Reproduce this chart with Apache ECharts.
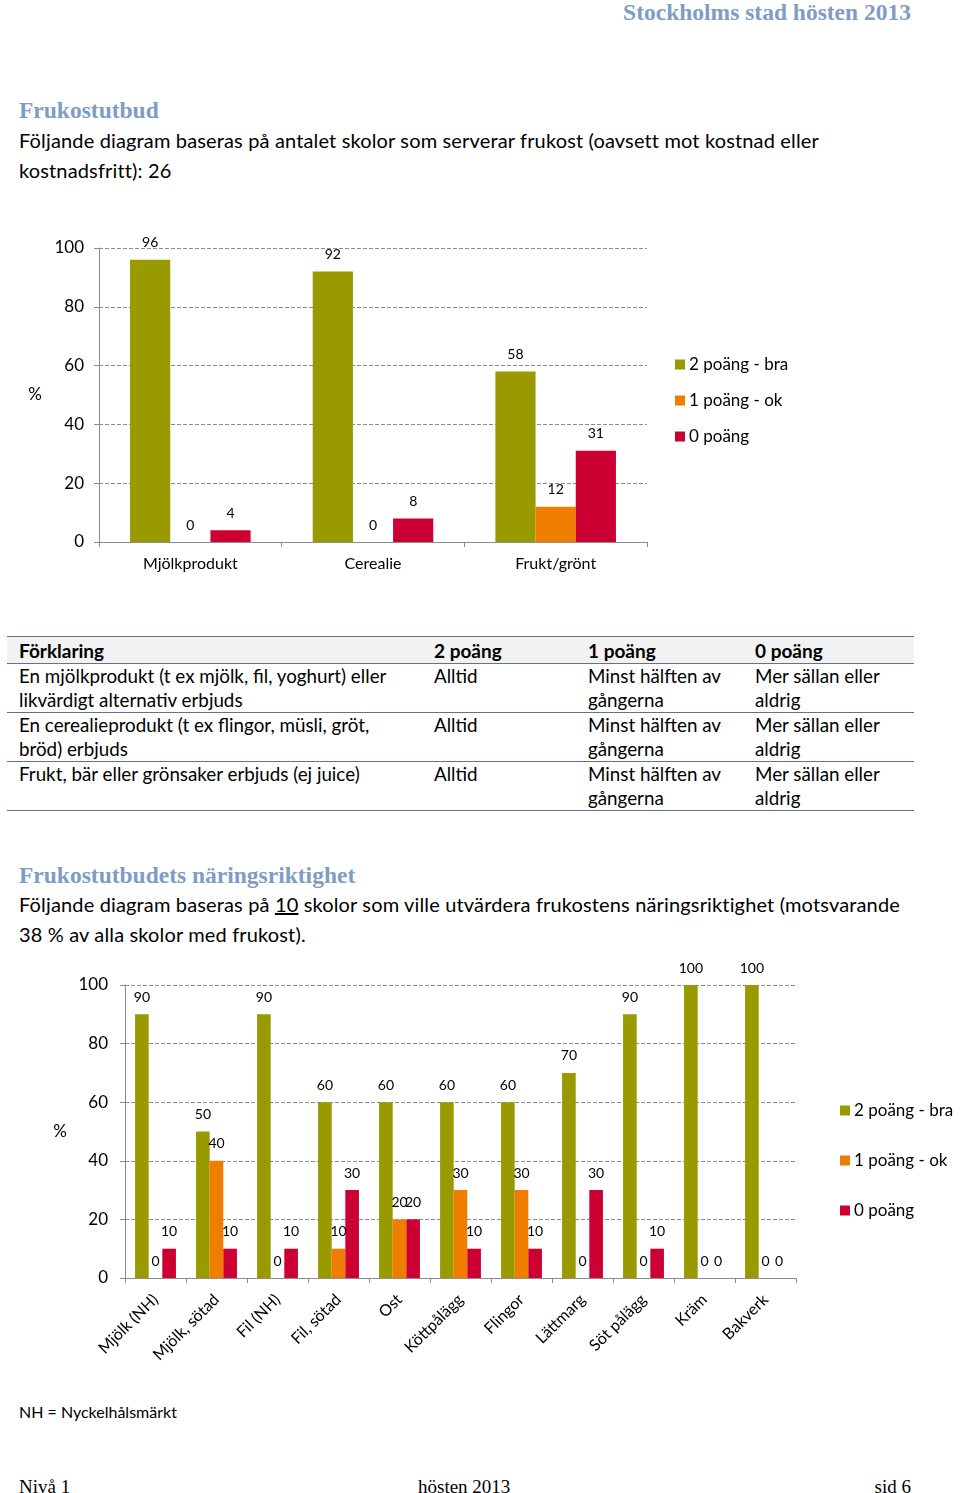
<!DOCTYPE html>
<html>
<head>
<meta charset="utf-8">
<script src="https://cdn.jsdelivr.net/npm/echarts@6/dist/echarts.min.js"></script>
<style>
  html, body { margin: 0; padding: 0; background: #fff; }
  body { width: 960px; height: 1493px; position: relative; overflow: hidden; font-family: Lato, "Open Sans", sans-serif; color: #000; }
  .abs { position: absolute; white-space: nowrap; line-height: 1; }
  .serifh { font-family: "Liberation Serif", serif; font-weight: bold; color: #7E9CC4; font-size: 23.5px; }
  .body { font-size: 20px; letter-spacing: 0.15px; }
  .tbody { font-size: 18.8px; }
  .tline { position: absolute; left: 7px; width: 907px; height: 0; border-top: 1.5px solid #60728C; }
  .hdrbg { position: absolute; left: 7px; width: 907px; top: 637px; height: 27px; background: #F2F2F2; }
  .th { font-weight: bold; font-size: 19px; }
  .foot { font-family: "Liberation Serif", serif; font-size: 19px; }
  #c1 { position: absolute; left: 0; top: 220px; width: 960px; height: 370px; }
  #c2 { position: absolute; left: 0; top: 950px; width: 960px; height: 430px; }
</style>
</head>
<body>
<div class="abs serifh" style="right:49px; top:1px;">Stockholms stad hösten 2013</div>
<div class="abs serifh" style="left:19px; top:99px;">Frukostutbud</div>
<div class="abs body" style="left:19px; top:130px;">Följande diagram baseras på antalet skolor som serverar frukost (oavsett mot kostnad eller</div>
<div class="abs body" style="left:19px; top:160px;">kostnadsfritt): 26</div>

<div id="c1"></div>

<div class="hdrbg"></div>
<div class="tline" style="top:636px;"></div>
<div class="tline" style="top:663px;"></div>
<div class="tline" style="top:712px;"></div>
<div class="tline" style="top:761px;"></div>
<div class="tline" style="top:810px;"></div>
<div id="tbl"></div>

<div class="abs serifh" style="left:19px; top:864px;">Frukostutbudets näringsriktighet</div>
<div class="abs body" style="left:19px; top:894px;">Följande diagram baseras på <span style="text-decoration:underline;">10</span> skolor som ville utvärdera frukostens näringsriktighet (motsvarande</div>
<div class="abs body" style="left:19px; top:924px;">38 % av alla skolor med frukost).</div>

<div id="c2"></div>

<div class="abs" style="left:19px; top:1404px; font-size:16px;">NH = Nyckelhålsmärkt</div>
<div class="abs foot" style="left:19px; top:1477px;">Nivå 1</div>
<div class="abs foot" style="left:418px; top:1477px;">hösten 2013</div>
<div class="abs foot" style="right:49px; top:1477px;">sid 6</div>

<script>
// ---- Data: chart 1 ----
const categories1 = ['Mjölkprodukt', 'Cerealie', 'Frukt/grönt'];
const bra1 = [96, 92, 58];
const ok1 = [0, 0, 12];
const noll1 = [4, 8, 31];

// ---- Data: chart 2 ----
const categories2 = ['Mjölk (NH)', 'Mjölk, sötad', 'Fil (NH)', 'Fil, sötad', 'Ost', 'Köttpålägg', 'Flingor', 'Lättmarg', 'Söt pålägg', 'Kräm', 'Bakverk'];
const bra2 = [90, 50, 90, 60, 60, 60, 60, 70, 90, 100, 100];
const ok2 = [0, 40, 0, 10, 20, 30, 30, 0, 0, 0, 0];
const noll2 = [10, 10, 10, 30, 20, 10, 10, 30, 10, 0, 0];

const seriesNames = ['2 poäng - bra', '1 poäng - ok', '0 poäng'];
const yTicks = [0, 20, 40, 60, 80, 100];

// ---- Table text ----
const tableHeader = ['Förklaring', '2 poäng', '1 poäng', '0 poäng'];
const tableRows = [
  [['En mjölkprodukt (t ex mjölk, fil, yoghurt) eller', 'likvärdigt alternativ erbjuds'], ['Alltid'], ['Minst hälften av', 'gångerna'], ['Mer sällan eller', 'aldrig']],
  [['En cerealieprodukt (t ex flingor, müsli, gröt,', 'bröd) erbjuds'], ['Alltid'], ['Minst hälften av', 'gångerna'], ['Mer sällan eller', 'aldrig']],
  [['Frukt, bär eller grönsaker erbjuds (ej juice)'], ['Alltid'], ['Minst hälften av', 'gångerna'], ['Mer sällan eller', 'aldrig']]
];

// build table
(function () {
  const colX = [19, 434, 588, 755];
  const tbl = document.getElementById('tbl');
  let html = '';
  tableHeader.forEach((t, i) => {
    html += '<div class="abs th" style="left:' + colX[i] + 'px; top:641px;">' + t + '</div>';
  });
  const rowTop = [667, 716, 765];
  tableRows.forEach((row, r) => {
    row.forEach((cell, c) => {
      cell.forEach((line, l) => {
        html += '<div class="abs tbody" style="left:' + colX[c] + 'px; top:' + (rowTop[r] + l * 24) + 'px;">' + line + '</div>';
      });
    });
  });
  tbl.innerHTML = html;
})();

const colors = ['#999900', '#EE7D00', '#CC0033'];
const FONT = 'Lato';

function makeOption(cfg) {
  const mk = (name, data, color) => ({
    name: name,
    type: 'bar',
    data: data,
    barGap: '0%',
    barCategoryGap: cfg.catGap,
    itemStyle: { color: color },
    label: { show: true, position: 'top', distance: cfg.labelDist, fontSize: cfg.labelSize, color: '#000', fontFamily: FONT },
    emphasis: { disabled: true }
  });
  return {
    animation: false,
    textStyle: { fontFamily: FONT },
    grid: cfg.grid,
    legend: {
      orient: 'vertical',
      left: cfg.legendLeft,
      top: cfg.legendTop,
      itemWidth: 10,
      itemHeight: 10,
      itemGap: cfg.legendGap,
      icon: 'rect',
      textStyle: { fontSize: 17, color: '#000', fontFamily: FONT, padding: [0, 0, 0, -1] },
      data: seriesNames,
      selectedMode: false
    },
    xAxis: {
      type: 'category',
      data: cfg.categories,
      axisLine: { lineStyle: { color: '#8C8C8C', width: 1 } },
      axisTick: { show: true, length: 5, lineStyle: { color: '#8C8C8C' } },
      axisLabel: Object.assign({ fontSize: 16, color: '#000', fontFamily: FONT, interval: 0 }, cfg.xLabel)
    },
    yAxis: {
      type: 'value',
      min: 0,
      max: 100,
      interval: 20,
      name: '%',
      nameLocation: 'middle',
      nameRotate: 0,
      nameGap: cfg.nameGap,
      nameTextStyle: { fontSize: 17, color: '#000', fontFamily: FONT },
      axisLine: { show: true, lineStyle: { color: '#8C8C8C' } },
      axisTick: { show: true, length: 5, lineStyle: { color: '#8C8C8C' } },
      axisLabel: {
        fontSize: 17, color: '#000', fontFamily: FONT, margin: cfg.yMargin,
        formatter: v => (yTicks.indexOf(v) >= 0 ? String(v) : '')
      },
      splitLine: { show: true, lineStyle: { color: '#8C8C8C', type: [4, 2], width: 1 } }
    },
    series: [
      mk(seriesNames[0], cfg.bra, colors[0]),
      mk(seriesNames[1], cfg.ok, colors[1]),
      mk(seriesNames[2], cfg.noll, colors[2])
    ]
  };
}

const chart1 = echarts.init(document.getElementById('c1'), null, { renderer: 'canvas' });
chart1.setOption(makeOption({
  categories: categories1, bra: bra1, ok: ok1, noll: noll1,
  grid: { left: 99, right: 313, top: 28, bottom: 48 },
  catGap: '34%', labelDist: 10, labelSize: 14,
  legendLeft: 670, legendTop: 131, legendGap: 19,
  nameGap: 57, yMargin: 15,
  xLabel: { margin: 14 }
}));

const chart2 = echarts.init(document.getElementById('c2'), null, { renderer: 'canvas' });
chart2.setOption(makeOption({
  categories: categories2, bra: bra2, ok: ok2, noll: noll2,
  grid: { left: 125, right: 164, top: 35, bottom: 102 },
  catGap: '33%', labelDist: 10, labelSize: 14,
  legendLeft: 835, legendTop: 147, legendGap: 33,
  nameGap: 58, yMargin: 17,
  xLabel: { rotate: 45, margin: 19 }
}));
</script>
</body>
</html>
